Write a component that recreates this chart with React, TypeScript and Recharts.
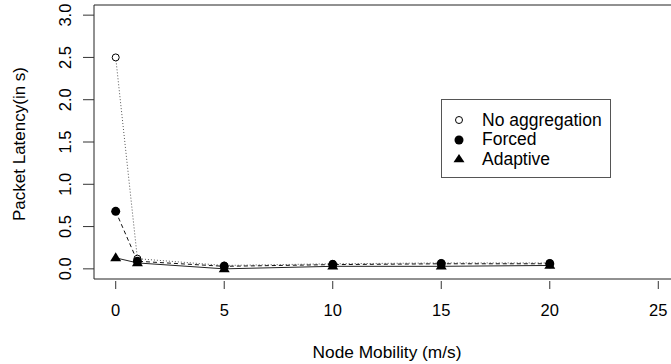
import React from "react";
import {
    LineChart,
    Line,
    XAxis,
    YAxis,
    ReferenceArea,
    Legend
} from "recharts";

const mobility = [0, 1, 5, 10, 15, 20];
const noAggregation = [2.5, 0.12, 0.04, 0.06, 0.07, 0.07];
const forced = [0.68, 0.09, 0.03, 0.05, 0.06, 0.06];
const adaptive = [0.13, 0.07, 0.0, 0.03, 0.03, 0.04];

const xTicks = [0, 5, 10, 15, 20, 25];
const yTicks = [0, 0.5, 1, 1.5, 2, 2.5, 3];
const yTickLabels = ["0.0", "0.5", "1.0", "1.5", "2.0", "2.5", "3.0"];

const seriesNames = ["No aggregation", "Forced", "Adaptive"];

const font = "'Liberation Sans', Arial, Helvetica, sans-serif";

const rows = mobility.map((m, i) => ({
    x: m,
    noAgg: noAggregation[i],
    forced: forced[i],
    adaptive: adaptive[i]
}));

const OpenCircle = (props: any) => {
    const { cx, cy } = props;
    if (cx == null || cy == null) return null;
    return <circle cx={cx} cy={cy} r={3.5} fill="#fff" stroke="#000" strokeWidth={1} />;
};

const FilledCircle = (props: any) => {
    const { cx, cy } = props;
    if (cx == null || cy == null) return null;
    return <circle cx={cx} cy={cy} r={4.5} fill="#000" stroke="none" />;
};

const Triangle = (props: any) => {
    const { cx, cy } = props;
    if (cx == null || cy == null) return null;
    const s = 5.5;
    return (
        <polygon
            points={`${cx},${cy - s} ${cx - s},${cy + s * 0.6} ${cx + s},${cy + s * 0.6}`}
            fill="#000"
        />
    );
};

const XTick = (props: any) => {
    const { x, y, payload } = props;
    return (
        <g>
            <line x1={x} x2={x} y1={y + 2} y2={y + 10} stroke="#333" />
            <text x={x} y={y + 37} textAnchor="middle" fontSize={16.5} fontFamily={font} fill="#000">
                {payload.value}
            </text>
        </g>
    );
};

const YTick = (props: any) => {
    const { x, y, payload } = props;
    const idx = yTicks.indexOf(payload.value);
    return (
        <g>
            <line x1={x - 11} x2={x} y1={y} y2={y} stroke="#333" />
            <text
                x={x - 29}
                y={y}
                transform={`rotate(-90 ${x - 29} ${y})`}
                textAnchor="middle"
                dominantBaseline="central"
                fontSize={16.5}
                fontFamily={font}
                fill="#000"
            >
                {idx >= 0 ? yTickLabels[idx] : payload.value}
            </text>
        </g>
    );
};

const symbols = [
    <circle cx={8} cy={8} r={3.5} fill="#fff" stroke="#000" />,
    <circle cx={8} cy={8} r={4.5} fill="#000" />,
    <polygon points="8,3 2.5,11.3 13.5,11.3" fill="#000" />
];

const LegendBox = () => (
    <div
        style={{
            width: 170,
            height: 79,
            border: "1px solid #555",
            boxSizing: "border-box",
            background: "#fff",
            fontFamily: font,
            fontSize: 17.5,
            position: "relative"
        }}
    >
        {seriesNames.map((name, i) => (
            <div
                key={name}
                style={{
                    position: "absolute",
                    left: 9,
                    top: 11 + i * 19.5,
                    display: "flex",
                    alignItems: "center",
                    height: 18,
                    whiteSpace: "nowrap"
                }}
            >
                <svg width={16} height={16} style={{ marginRight: 15 }}>
                    {symbols[i]}
                </svg>
                <span>{name}</span>
            </div>
        ))}
    </div>
);

export default function App() {
    return (
        <div style={{ position: "absolute", left: 0, top: 0, width: 671, height: 364, overflow: "hidden", background: "#fff" }}>
            <LineChart
                width={700}
                height={364}
                data={rows}
                margin={{ top: 5, right: 20, bottom: 0, left: 0 }}
            >
                <XAxis
                    type="number"
                    dataKey="x"
                    domain={[-1, 26]}
                    ticks={xTicks}
                    allowDataOverflow
                    axisLine={false}
                    tickLine={false}
                    tickSize={0}
                    tickMargin={0}
                    tick={<XTick />}
                    interval={0}
                    height={85}
                />
                <YAxis
                    type="number"
                    domain={[-0.12, 3.12]}
                    ticks={yTicks}
                    allowDataOverflow
                    axisLine={false}
                    tickLine={false}
                    tickSize={0}
                    tickMargin={0}
                    tick={<YTick />}
                    interval={0}
                    width={94}
                />
                <ReferenceArea x1={-1} x2={26} y1={-0.12} y2={3.12} fill="none" stroke="#222" strokeWidth={1} />
                <Line
                    dataKey="noAgg"
                    name="No aggregation"
                    stroke="#555"
                    strokeDasharray="1 2"
                    strokeWidth={1}
                    dot={<OpenCircle />}
                    activeDot={false}
                    isAnimationActive={false}
                />
                <Line
                    dataKey="forced"
                    name="Forced"
                    stroke="#111"
                    strokeDasharray="4 3"
                    strokeWidth={1}
                    dot={<FilledCircle />}
                    activeDot={false}
                    isAnimationActive={false}
                />
                <Line
                    dataKey="adaptive"
                    name="Adaptive"
                    stroke="#222"
                    strokeWidth={1}
                    dot={<Triangle />}
                    activeDot={false}
                    isAnimationActive={false}
                />
                <Legend
                    layout="vertical"
                    align="center"
                    verticalAlign="middle"
                    content={<LegendBox />}
                    wrapperStyle={{ position: "absolute", left: 441, top: 99, width: 170 }}
                />
            </LineChart>
            <div
                style={{
                    position: "absolute",
                    left: 94,
                    width: 586,
                    top: 342,
                    textAlign: "center",
                    fontFamily: font,
                    fontSize: 17.3
                }}
            >
                Node Mobility (m/s)
            </div>
            <div
                style={{
                    position: "absolute",
                    left: 20,
                    top: 144,
                    transform: "translate(-50%, -50%) rotate(-90deg)",
                    whiteSpace: "nowrap",
                    fontFamily: font,
                    fontSize: 17
                }}
            >
                Packet Latency(in s)
            </div>
        </div>
    );
}
